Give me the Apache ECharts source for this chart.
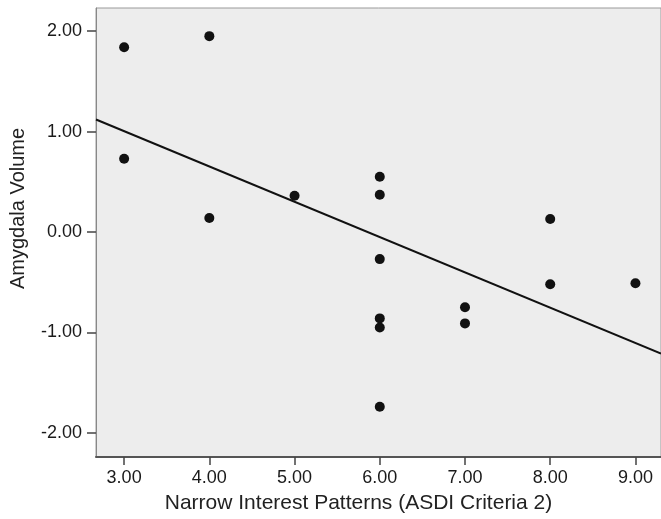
<!DOCTYPE html>
<html>
<head>
<meta charset="utf-8">
<script src="https://cdn.jsdelivr.net/npm/echarts@6/dist/echarts.min.js"></script>
<style>
  html, body { margin: 0; padding: 0; background: #fff; }
  #chart { width: 661px; height: 519px; }
</style>
</head>
<body>
<div id="chart"></div>
<script>
// narrow interest score vs amygdala volume (standardised)
const xValues = [3, 3, 4, 4, 5, 6, 6, 6, 6, 6, 6, 7, 7, 8, 8, 9]
const yValues = [1.84, 0.73, 1.95, 0.14, 0.36, 0.55, 0.37, -0.27, -0.86, -0.95, -1.74, -0.75, -0.91, 0.13, -0.52, -0.51]
// fit line end points
const fitX = [2.67, 9.3]
const fitY = [1.12, -1.21]
const xTicks = [3, 4, 5, 6, 7, 8, 9]
const yTicks = [-2, -1, 0, 1, 2]

const chart = echarts.init(document.getElementById('chart'))
const font = 'Liberation Sans, Arial, sans-serif'

chart.setOption({
  animation: false,
  grid: {
    left: 96, top: 8, right: -2, bottom: 62,
    show: true,
    backgroundColor: '#ededed',
    borderColor: '#9a9a9a',
    borderWidth: 1
  },
  xAxis: {
    type: 'value',
    min: 2.67,
    max: 9.3,
    name: 'Narrow Interest Patterns (ASDI Criteria 2)',
    nameLocation: 'middle',
    nameGap: 36,
    nameTextStyle: { fontFamily: font, fontSize: 21, color: '#222', padding: [0, 40, 0, 0] },
    splitLine: { show: false },
    axisLine: { show: true, onZero: false, lineStyle: { color: '#555', width: 2 } },
    axisTick: { show: true, length: 8, customValues: xTicks, lineStyle: { color: '#444', width: 1.5 } },
    axisLabel: {
      customValues: xTicks,
      margin: 12,
      fontFamily: font, fontSize: 18, color: '#1a1a1a',
      formatter: v => v.toFixed(2)
    }
  },
  yAxis: {
    type: 'value',
    min: -2.24,
    max: 2.23,
    name: 'Amygdala Volume',
    nameLocation: 'middle',
    nameGap: 68,
    nameTextStyle: { fontFamily: font, fontSize: 20, color: '#222', padding: [0, 0, 0, 48] },
    splitLine: { show: false },
    axisLine: { show: true, onZero: false, lineStyle: { color: '#888', width: 1 } },
    axisTick: { show: true, length: 9, customValues: yTicks, lineStyle: { color: '#444', width: 1.5 } },
    axisLabel: {
      customValues: yTicks,
      margin: 14,
      fontFamily: font, fontSize: 18, color: '#1a1a1a',
      formatter: v => v.toFixed(2)
    }
  },
  series: [
    {
      type: 'line',
      data: fitX.map((x, i) => [x, fitY[i]]),
      showSymbol: false,
      lineStyle: { color: '#111', width: 2 },
      z: 2
    },
    {
      type: 'scatter',
      data: xValues.map((x, i) => [x, yValues[i]]),
      symbolSize: 10,
      itemStyle: { color: '#111', opacity: 1 },
      z: 3
    }
  ]
})
</script>
</body>
</html>
